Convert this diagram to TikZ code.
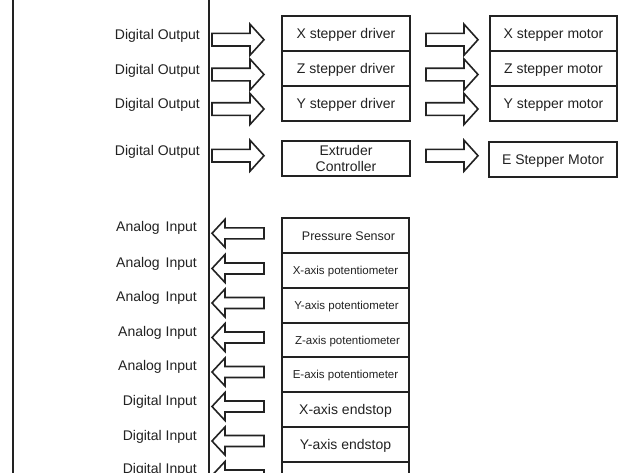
\documentclass[tikz,border=0pt]{standalone}
\usepackage{fontspec}
\setmainfont{Liberation Sans}
\definecolor{ink}{HTML}{222222}
\tikzset{
  mainline/.style={draw=ink, line width=1.6pt},
  boxbase/.style={draw=ink, line width=1.7pt, minimum width=128pt, minimum height=35pt,
    inner sep=0pt, text=ink, font=\fontsize{14}{16}\selectfont},
  box/.style={boxbase, text height=10pt, text depth=0pt},
  potbox/.style={boxbase, minimum width=127pt, font=\fontsize{11.5}{13}\selectfont,
    text height=8.2pt, text depth=0pt},
  lbl/.style={anchor=base east, inner sep=0pt, text=ink, font=\fontsize{14}{16}\selectfont},
  barrow/.style={draw=ink, line width=1.6pt, line join=miter, fill=white},
  outarrow/.pic={\draw[barrow] (0,-6.3) -- (38,-6.3) -- (38,-15.5) -- (52,0) -- (38,15.5) -- (38,6.3) -- (0,6.3) -- cycle;},
  inarrow/.pic={\draw[barrow] (0,0) -- (13,-14) -- (13,-5.5) -- (52,-5.5) -- (52,5.5) -- (13,5.5) -- (13,14) -- cycle;},
}
\begin{document}
\begin{tikzpicture}[x=1pt,y=-1pt]
\path[use as bounding box] (0,0) rectangle (628,472);
\clip (0,0) rectangle (628,472);
\fill[white] (0,0) rectangle (628,472);
% frame lines
\coordinate (Ltop) at (13,-5); \coordinate (Lbot) at (13,480);
\coordinate (Mtop) at (209,-5); \coordinate (Mbot) at (209,480);
\draw[mainline] (Ltop) -- (Lbot);
\draw[mainline] (Mtop) -- (Mbot);
% drivers
\node[box] (xd) at (346,33.5) {X stepper driver};
\node[box] (zd) at (346,68.5) {Z stepper driver};
\node[box] (yd) at (346,103.5) {Y stepper driver};
\node[boxbase, align=center] (ec) at (346,158.5) {Extruder\\Controller};
% motors
\node[box, minimum width=127pt] (xm) at (553.5,33.5) {X stepper motor};
\node[box, minimum width=127pt] (zm) at (553.5,68.5) {Z stepper motor};
\node[box, minimum width=127pt] (ym) at (553.5,103.5) {Y stepper motor};
\node[box] (em) at (553,159.5) {E Stepper Motor};
% output arrows
\pic (oa1) at (212,39.7) {outarrow};
\pic (oa2) at (212,74.5) {outarrow};
\pic (oa3) at (212,109) {outarrow};
\pic (oa4) at (212,155.7) {outarrow};
\pic (ob1) at (426,39.7) {outarrow};
\pic (ob2) at (426,74.5) {outarrow};
\pic (ob3) at (426,109) {outarrow};
\pic (ob4) at (426,155.7) {outarrow};
% output labels
\node[lbl] (do1) at (200,39.3) {Digital Output};
\node[lbl] (do2) at (200,74) {Digital Output};
\node[lbl] (do3) at (200,108.7) {Digital Output};
\node[lbl] (do4) at (200,155) {Digital Output};
% sensors
\node[box, minimum width=127pt, font=\fontsize{12.5}{14}\selectfont, text height=9pt] (ps) at (345.5,235.5) {\hspace*{6pt}Pressure Sensor};
\node[potbox] (xp) at (345.5,270.5) {X-axis potentiometer};
\node[potbox] (yp) at (345.5,305.5) {\hspace*{2pt}Y-axis potentiometer};
\node[potbox] (zp) at (345.5,340) {\hspace*{4pt}Z-axis potentiometer};
\node[potbox] (ep) at (345.5,374.5) {E-axis potentiometer};
\node[box, minimum width=127pt] (xe) at (345.5,409.5) {X-axis endstop};
\node[box, minimum width=127pt] (ye) at (345.5,444.5) {Y-axis endstop};
\node[box, minimum width=127pt] (ze) at (345.5,479.5) {};
% input arrows
\pic (ia1) at (212,233.3) {inarrow};
\pic (ia2) at (212,268.5) {inarrow};
\pic (ia3) at (212,303) {inarrow};
\pic (ia4) at (212,337.5) {inarrow};
\pic (ia5) at (212,372) {inarrow};
\pic (ia6) at (212,406.5) {inarrow};
\pic (ia7) at (212,441) {inarrow};
\pic (ia8) at (212,475.5) {inarrow};
% input labels
\node[lbl] (ai1) at (197,231.8) {Analog\hspace{2pt} Input};
\node[lbl] (ai2) at (197,267) {Analog\hspace{2pt} Input};
\node[lbl] (ai3) at (197,301.5) {Analog\hspace{2pt} Input};
\node[lbl] (ai4) at (197,336) {Analog Input};
\node[lbl] (ai5) at (197,370.5) {Analog Input};
\node[lbl] (di1) at (197,405.5) {Digital Input};
\node[lbl] (di2) at (197,440) {Digital Input};
\node[lbl] (di3) at (197,473.5) {Digital Input};
\end{tikzpicture}
\end{document}
